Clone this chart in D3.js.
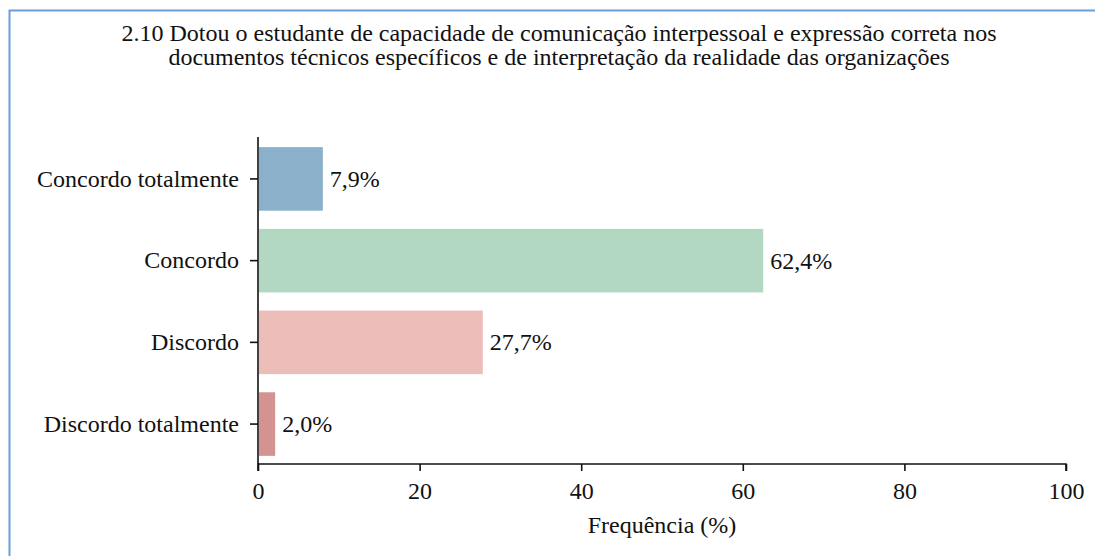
<!DOCTYPE html>
<html>
<head>
<meta charset="utf-8">
<script src="https://cdn.jsdelivr.net/npm/d3@7"></script>
<style>
  body { margin: 0; background: #fff; }
</style>
</head>
<body>
<script>
var categories = ["Concordo totalmente", "Concordo", "Discordo", "Discordo totalmente"];
var values = [7.9, 62.4, 27.7, 2.0];
var colors = ["#8ab0ca", "#b2d8c2", "#edbdba", "#d49290"];
var xTicks = [0, 20, 40, 60, 80, 100];
var titleLines = [
  "2.10 Dotou o estudante de capacidade de comunicação interpessoal e expressão correta nos",
  "documentos técnicos específicos e de interpretação da realidade das organizações"
];

var width = 1095;
var height = 556;
var fontStack = "'Liberation Serif', 'Times New Roman', serif";
var fontSize = 24;

var svg = d3.select("body").append("svg")
    .attr("width", width)
    .attr("height", height)
    .style("font-family", fontStack);

// frame (only top and left edges visible)
svg.append("path")
    .attr("d", "M9.5," + height + "V10.5H" + width)
    .attr("fill", "none")
    .attr("stroke", "#6a9fdc")
    .attr("stroke-width", 2);

svg.selectAll("text.title")
    .data(titleLines)
    .enter().append("text")
    .attr("class", "title")
    .attr("x", 559)
    .attr("y", (d, i) => 41 + i * 24)
    .attr("text-anchor", "middle")
    .attr("font-size", fontSize)
    .attr("fill", "#111")
    .text(d => d);

var xScale = d3.scaleLinear().domain([0, 100]).range([258, 1066]);
var yScale = d3.scaleBand().domain(categories).range([129, 474]).padding(0.222);

var xAxis = d3.axisBottom(xScale).tickValues(xTicks).tickSize(7).tickPadding(11);
var yAxis = d3.axisLeft(yScale).tickSize(8).tickPadding(11);

var gx = svg.append("g")
    .attr("transform", "translate(0,464)")
    .call(xAxis);

var gy = svg.append("g")
    .attr("transform", "translate(258,0)")
    .call(yAxis);

[gx, gy].forEach(function (g) {
    g.attr("font-family", null).attr("font-size", null);
    g.selectAll("path, line").attr("stroke", "#111").attr("stroke-width", 1.6);
    g.selectAll("text")
        .attr("font-size", fontSize)
        .attr("fill", "#111");
});
gx.select(".domain").attr("d", "M258,7V0H1066V7");
gy.select(".domain").attr("d", "M0,137V464");

svg.selectAll("rect.bar")
    .data(values)
    .enter().append("rect")
    .attr("class", "bar")
    .attr("x", xScale(0) + 1)
    .attr("y", (d, i) => yScale(categories[i]))
    .attr("width", d => xScale(d) - xScale(0))
    .attr("height", yScale.bandwidth())
    .attr("fill", (d, i) => colors[i]);

svg.selectAll("text.val")
    .data(values)
    .enter().append("text")
    .attr("class", "val")
    .attr("x", d => xScale(d) + 8)
    .attr("y", (d, i) => yScale(categories[i]) + yScale.bandwidth() / 2)
    .attr("dy", "0.33em")
    .attr("font-size", fontSize)
    .attr("fill", "#111")
    .text(d => d.toFixed(1).replace(".", ",") + "%");

svg.append("text")
    .attr("x", xScale(50))
    .attr("y", 533)
    .attr("text-anchor", "middle")
    .attr("font-size", fontSize)
    .attr("fill", "#111")
    .text("Frequência (%)");
</script>
</body>
</html>
